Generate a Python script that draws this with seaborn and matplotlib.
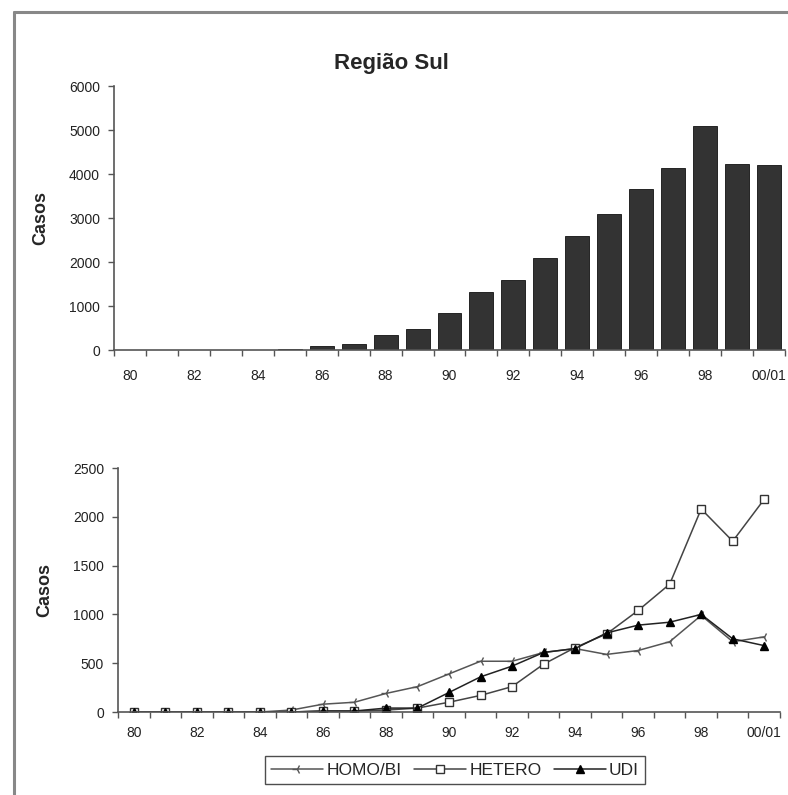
import numpy as np
import pandas as pd
import matplotlib
matplotlib.use("Agg")
import matplotlib.pyplot as plt
from matplotlib.lines import Line2D
from matplotlib.ticker import FixedLocator
import seaborn as sns

# ---------------- data ----------------
years = ["80", "81", "82", "83", "84", "85", "86", "87", "88", "89", "90",
         "91", "92", "93", "94", "95", "96", "97", "98", "99", "00/01"]
total_cases = [0, 0, 0, 0, 0, 20, 90, 130, 330, 480, 850,
               1320, 1600, 2100, 2600, 3080, 3650, 4130, 5080, 4230, 4200]
homo_bi = [0, 0, 0, 0, 0, 20, 80, 100, 190, 260, 390,
           520, 520, 610, 650, 590, 630, 720, 990, 720, 770]
hetero = [0, 0, 0, 0, 0, 0, 10, 10, 20, 40, 100,
          170, 260, 490, 660, 800, 1040, 1310, 2080, 1750, 2180]
udi = [0, 0, 0, 0, 0, 0, 10, 10, 40, 40, 200,
       360, 470, 610, 650, 810, 890, 920, 1000, 750, 680]
series_names = ["HOMO/BI", "HETERO", "UDI"]
top_yticks = [0, 1000, 2000, 3000, 4000, 5000, 6000]
bottom_yticks = [0, 500, 1000, 1500, 2000, 2500]
title = "Região Sul"
ylabel = "Casos"

sns.set_theme(style="white")
plt.rcParams["font.family"] = ["Liberation Sans", "DejaVu Sans"]

W, H = 788, 795
fig = plt.figure(figsize=(W / 100, H / 100), dpi=100)
fig.patch.set_facecolor("white")

axis_col = "#555555"
tick_font = dict(fontsize=10, color="#222222")
bold_family = ["Liberation Sans", "DejaVu Sans"]

def style_axis(ax, yticks, ymax, xpad):
    ax.set_xlim(-0.5, len(years) - 0.5)
    ax.set_ylim(0, ymax)
    for s in ["top", "right"]:
        ax.spines[s].set_visible(False)
    for s in ["left", "bottom"]:
        ax.spines[s].set_color(axis_col)
        ax.spines[s].set_linewidth(1.2)
    ax.set_yticks(yticks)
    ax.set_yticklabels([str(v) for v in yticks], **tick_font)
    pos = list(range(0, len(years), 2))
    ax.set_xticks(pos)
    ax.set_xticklabels([years[i] for i in pos], **tick_font)
    ax.xaxis.set_minor_locator(FixedLocator(np.arange(-0.5, len(years), 1.0)))
    ax.tick_params(axis="x", which="major", length=0, pad=xpad)
    ax.tick_params(axis="x", which="minor", length=4, width=1, color=axis_col, direction="out", bottom=True)
    ax.tick_params(axis="y", which="major", length=4, width=1, color=axis_col, direction="out", left=True, pad=6)
    ax.set_xlabel("")
    ax.grid(False)

# ---------------- top bar chart ----------------
ax1 = fig.add_axes([114 / W, 1 - 350 / H, (785 - 114) / W, (350 - 86) / H])
df_top = pd.DataFrame({"ano": years, "casos": total_cases})
sns.barplot(data=df_top, x="ano", y="casos", order=years, color="#333333",
            saturation=1, width=0.75, edgecolor="#111111", linewidth=0.6, ax=ax1)
style_axis(ax1, top_yticks, 6000, 14)
ax1.set_ylabel(ylabel, fontsize=13, fontweight="bold", family=bold_family, labelpad=14)
ax1.set_title(title, fontsize=16, fontweight="bold", family=bold_family, x=0.414, pad=12)

# ---------------- bottom line chart ----------------
ax2 = fig.add_axes([118 / W, 1 - 712 / H, (780 - 118) / W, (712 - 468) / H])
xpos = np.arange(len(years))
styles = [
    dict(marker="3", markersize=7, markeredgewidth=1.0, color="#555555", mfc="white", mec="#555555"),
    dict(marker="s", markersize=6, markeredgewidth=1.0, color="#444444", mfc="white", mec="#333333"),
    dict(marker="^", markersize=6, markeredgewidth=1.0, color="#222222", mfc="black", mec="black"),
]
for name, vals, st in zip(series_names, [homo_bi, hetero, udi], styles):
    sns.lineplot(x=xpos, y=vals, ax=ax2, label=name, linewidth=1.1, sort=False,
                 color=st["color"], marker=st["marker"], markersize=st["markersize"],
                 markeredgewidth=st["markeredgewidth"], markerfacecolor=st["mfc"],
                 markeredgecolor=st["mec"])
style_axis(ax2, bottom_yticks, 2500, 10)
ax2.set_ylabel(ylabel, fontsize=13, fontweight="bold", family=bold_family, labelpad=14)
ax2.get_legend().remove()
handles, labels = ax2.get_legend_handles_labels()
leg = fig.legend(handles, labels, loc="center", bbox_to_anchor=(455 / W, 1 - 770 / H),
                 ncol=3, frameon=True, fancybox=False, edgecolor="#222222",
                 fontsize=12.5, handlelength=3.0, handletextpad=0.2, columnspacing=0.7,
                 borderpad=0.35)
leg.get_frame().set_linewidth(1.0)

# ---------------- page frame ----------------
fig.add_artist(Line2D([14 / W, 14 / W], [0, 1 - 12 / H], color="#888888", lw=2.2))
fig.add_artist(Line2D([14 / W, 1], [1 - 12 / H, 1 - 12 / H], color="#888888", lw=2.2))

fig.savefig("out.png", dpi=100, facecolor="white")
